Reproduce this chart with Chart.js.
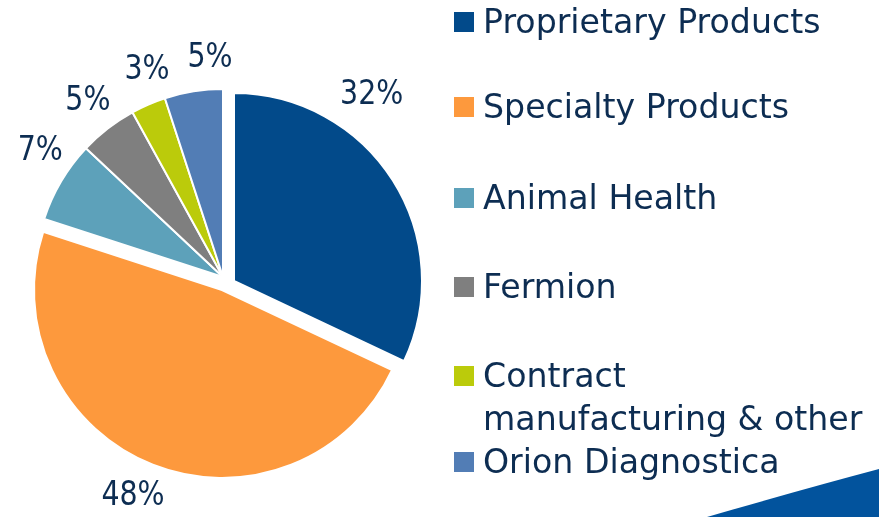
<!DOCTYPE html>
<html>
<head>
<meta charset="utf-8">
<script src="https://cdn.jsdelivr.net/npm/chart.js@4/dist/chart.umd.min.js"></script>
<style>
    html, body { margin: 0; padding: 0; background: #ffffff; }
    #wrap { position: relative; width: 879px; height: 517px; overflow: hidden; }
    #pie { position: absolute; left: 0; top: 0; }
    .legend-item {
        position: absolute;
        left: 454px;
        font-family: "DejaVu Sans", sans-serif;
        font-size: 33.2px;
        line-height: 43px;
        color: #0d2d52;
        white-space: nowrap;
    }
    .legend-item .box {
        position: absolute;
        left: 0;
        top: 12px;
        width: 20px;
        height: 20px;
    }
    .legend-item .text { margin-left: 29px; }
    #swoosh { position: absolute; left: 0; top: 0; }
</style>
</head>
<body>
<div id="wrap">
    <canvas id="pie" width="879" height="517"></canvas>
    <div id="legend"></div>
    <svg id="swoosh" width="879" height="517">
        <path d="M707 517 Q800 490 879 469 L879 517 Z" fill="#02539d"/>
    </svg>
</div>
<script>
// segment names, in drawing order (clockwise from 12 o'clock)
const segments = [
    'Proprietary Products',
    'Specialty Products',
    'Animal Health',
    'Fermion',
    'Contract manufacturing & other',
    'Orion Diagnostica'
];
// share of net sales, %
const shares = [32, 48, 7, 5, 3, 5];
const segmentColors = ['#024a8a', '#fd993d', '#5da1ba', '#7f7f7f', '#bbcb0b', '#527db5'];

// legend text lines (the long one wraps)
const legendLines = [
    ['Proprietary Products'],
    ['Specialty Products'],
    ['Animal Health'],
    ['Fermion'],
    ['Contract', 'manufacturing & other'],
    ['Orion Diagnostica']
];

// styling: how far each slice is pulled out, and label nudges
const sliceShift = [[11, 4], [-1, 13], [0, 0], [0, 0], [0, 0], [0, 0]];
const labelTurn = [-21, 1.7, 4, 0.3, 3.2, 5.6];   // degrees, clockwise
const labelGap = [43, 37, 34, 34, 32, 31];        // px beyond the rim
const legendTops = [0, 85, 176, 265, 354, 440];

document.addEventListener('DOMContentLoaded', () => {
    buildLegend();
    drawPie();
});

function buildLegend() {
    const holder = document.getElementById('legend');
    segments.forEach((name, i) => {
        const item = document.createElement('div');
        item.className = 'legend-item';
        item.style.top = legendTops[i] + 'px';
        const box = document.createElement('span');
        box.className = 'box';
        box.style.background = segmentColors[i];
        const text = document.createElement('div');
        text.className = 'text';
        text.innerHTML = legendLines[i].map(escapeHtml).join('<br>');
        item.appendChild(box);
        item.appendChild(text);
        holder.appendChild(item);
    });
}

function escapeHtml(s) {
    return s.replace(/&/g, '&amp;').replace(/</g, '&lt;').replace(/>/g, '&gt;');
}

// draw the arcs ourselves so a pulled-out slice keeps its radius
const explodePlugin = {
    id: 'explode',
    beforeDatasetDraw(chart, args) {
        const ctx = chart.ctx;
        args.meta.data.forEach((arc, i) => {
            const [dx, dy] = sliceShift[i];
            ctx.save();
            ctx.translate(dx, dy);
            arc.draw(ctx);
            ctx.restore();
        });
        return false;
    }
};

const pctLabels = {
    id: 'pctLabels',
    afterDatasetsDraw(chart) {
        const ctx = chart.ctx;
        const meta = chart.getDatasetMeta(0);
        meta.data.forEach((arc, i) => {
            const { x, y, startAngle, endAngle, outerRadius } = arc.getProps(['x', 'y', 'startAngle', 'endAngle', 'outerRadius'], true);
            const a = (startAngle + endAngle) / 2 + labelTurn[i] * Math.PI / 180;
            const d = outerRadius + labelGap[i];
            const lx = x + sliceShift[i][0] + Math.cos(a) * d;
            const ly = y + sliceShift[i][1] + Math.sin(a) * d;
            ctx.save();
            ctx.translate(lx, ly);
            ctx.scale(0.93, 1); // the slide font is a bit narrower
            ctx.font = '34px "DejaVu Sans Condensed", "DejaVu Sans", sans-serif';
            ctx.fillStyle = '#0d2d52';
            ctx.textAlign = 'center';
            ctx.textBaseline = 'middle';
            ctx.fillText(shares[i] + '%', 0, 0);
            ctx.restore();
        });
    }
};

function drawPie() {
    const ctx = document.getElementById('pie');
    new Chart(ctx, {
        type: 'pie',
        data: {
            labels: segments,
            datasets: [{
                data: shares,
                backgroundColor: segmentColors,
                borderColor: '#ffffff',
                borderWidth: 2
            }]
        },
        options: {
            responsive: false,
            animation: false,
            radius: 188,
            layout: { padding: { left: 0, right: 433, top: 37, bottom: 0 } },
            plugins: {
                legend: { display: false },
                tooltip: { enabled: false }
            }
        },
        plugins: [explodePlugin, pctLabels]
    });
}
</script>
</body>
</html>
